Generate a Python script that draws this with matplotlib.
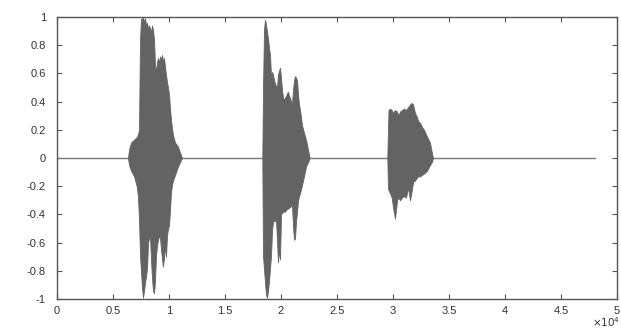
import matplotlib
matplotlib.use("Agg")
import matplotlib.pyplot as plt
import numpy as np

plt.rcParams['font.family'] = ['Liberation Sans', 'DejaVu Sans']
plt.rcParams['axes.unicode_minus'] = False

# ---- data: sample index and amplitude envelopes ----
signal_length = 48000

b1_x = [6340, 6430, 6610, 6880, 7140, 7230, 7320, 7410, 7500, 7590, 7680, 7770, 7860,
        7950, 8040, 8130, 8210, 8300, 8390, 8480, 8570, 8660, 8750, 8840, 8930, 9020,
        9110, 9200, 9290, 9380, 9460, 9550, 9640, 9730, 9820, 9910, 10000, 10090,
        10180, 10270, 10360, 10540, 10800, 10980, 11160]
b1_up = [0, 0.06, 0.11, 0.13, 0.15, 0.17, 0.20, 0.84, 0.99, 0.98, 1.00, 0.96, 0.99,
         0.94, 0.96, 0.91, 0.94, 0.92, 0.89, 0.94, 0.91, 0.84, 0.66, 0.61, 0.68, 0.71,
         0.67, 0.72, 0.70, 0.73, 0.68, 0.71, 0.65, 0.59, 0.54, 0.50, 0.45, 0.35,
         0.27, 0.21, 0.16, 0.11, 0.08, 0.04, 0]
b1_lo = [0, -0.05, -0.09, -0.13, -0.21, -0.28, -0.44, -0.69, -0.81, -0.92, -0.99, -0.94, -0.88,
         -0.84, -0.78, -0.60, -0.57, -0.55, -0.72, -0.85, -0.94, -0.96, -0.87, -0.69, -0.62, -0.58,
         -0.55, -0.57, -0.65, -0.72, -0.77, -0.71, -0.62, -0.70, -0.55, -0.50, -0.48, -0.37,
         -0.24, -0.19, -0.16, -0.12, -0.06, -0.03, 0]

b2_x = [18330, 18390, 18480, 18570, 18660, 18750, 18840, 18930, 19020, 19110, 19200,
        19290, 19380, 19460, 19550, 19640, 19730, 19820, 19910, 20000, 20090, 20180,
        20270, 20360, 20450, 20540, 20630, 20710, 20800, 20890, 20980, 21070, 21160,
        21250, 21340, 21430, 21520, 21610, 21700, 21880, 22050, 22230, 22410, 22560]
b2_up = [0, 0.48, 0.91, 0.98, 0.95, 0.89, 0.85, 0.78, 0.73, 0.57, 0.61,
         0.59, 0.55, 0.53, 0.51, 0.50, 0.59, 0.62, 0.64, 0.57, 0.48, 0.43,
         0.41, 0.43, 0.44, 0.46, 0.47, 0.44, 0.43, 0.40, 0.39, 0.48, 0.55,
         0.58, 0.57, 0.55, 0.45, 0.38, 0.34, 0.23, 0.18, 0.13, 0.06, 0]
b2_lo = [0, -0.69, -0.79, -0.88, -0.97, -0.99, -0.94, -0.87, -0.78, -0.69, -0.51,
         -0.45, -0.44, -0.45, -0.43, -0.58, -0.74, -0.65, -0.72, -0.40, -0.39, -0.38,
         -0.38, -0.38, -0.37, -0.36, -0.36, -0.35, -0.35, -0.34, -0.33, -0.48, -0.58,
         -0.57, -0.45, -0.38, -0.30, -0.27, -0.25, -0.19, -0.13, -0.06, -0.03, 0]

b3_x = [29490, 29550, 29600, 29730, 29880, 30000, 30180, 30360, 30470, 30630, 30800,
        30980, 31160, 31340, 31520, 31670, 31790, 31960, 32140, 32260, 32410, 32590,
        32770, 33040, 33300, 33460, 33570]
b3_up = [0, 0.21, 0.34, 0.35, 0.34, 0.32, 0.34, 0.33, 0.30, 0.33, 0.34,
         0.35, 0.34, 0.36, 0.38, 0.39, 0.38, 0.32, 0.29, 0.26, 0.25, 0.22,
         0.20, 0.15, 0.11, 0.04, 0]
b3_lo = [0, -0.21, -0.23, -0.25, -0.28, -0.35, -0.43, -0.30, -0.28, -0.30, -0.28,
         -0.27, -0.28, -0.21, -0.30, -0.23, -0.17, -0.16, -0.14, -0.13, -0.13, -0.12,
         -0.11, -0.09, -0.05, -0.03, 0]

x_ticks = [0, 5000, 10000, 15000, 20000, 25000, 30000, 35000, 40000, 45000, 50000]
x_tick_labels = ['0', '0.5', '1', '1.5', '2', '2.5', '3', '3.5', '4', '4.5', '5']
y_ticks = [1, 0.8, 0.6, 0.4, 0.2, 0, -0.2, -0.4, -0.6, -0.8, -1]
y_tick_labels = ['1', '0.8', '0.6', '0.4', '0.2', '0', '-0.2', '-0.4', '-0.6', '-0.8', '-1']

# ---- figure ----
fig = plt.figure(figsize=(6.21, 3.33), dpi=100)
ax = fig.add_axes([0.0918, 0.102, 0.9018, 0.847])

wave_color = '#636363'
ax.plot([0, signal_length], [0, 0], color='#7a7a7a', lw=1.0, zorder=2)
for bx, bu, bl in [(b1_x, b1_up, b1_lo), (b2_x, b2_up, b2_lo), (b3_x, b3_up, b3_lo)]:
    ax.fill_between(bx, bl, bu, color=wave_color, lw=0.6, edgecolor=wave_color, zorder=3)

ax.set_xlim(0, 50000)
ax.set_ylim(-1, 1)
ax.set_xticks(x_ticks)
ax.set_xticklabels(x_tick_labels)
ax.set_yticks(y_ticks)
ax.set_yticklabels(y_tick_labels)

spine_color = '#555555'
for s in ax.spines.values():
    s.set_color(spine_color)
    s.set_linewidth(1.0)
ax.tick_params(direction='in', length=3.5, width=0.8, color=spine_color,
               top=True, right=True, labelsize=8, labelcolor='#333333')
ax.tick_params(axis='y', pad=8)
ax.tick_params(axis='x', pad=5)

fig.text(0.998, 0.012, r'$\times10^{4}$', ha='right', va='bottom',
         fontsize=7.5, color='#333333')

fig.savefig('out.png', dpi=100)
